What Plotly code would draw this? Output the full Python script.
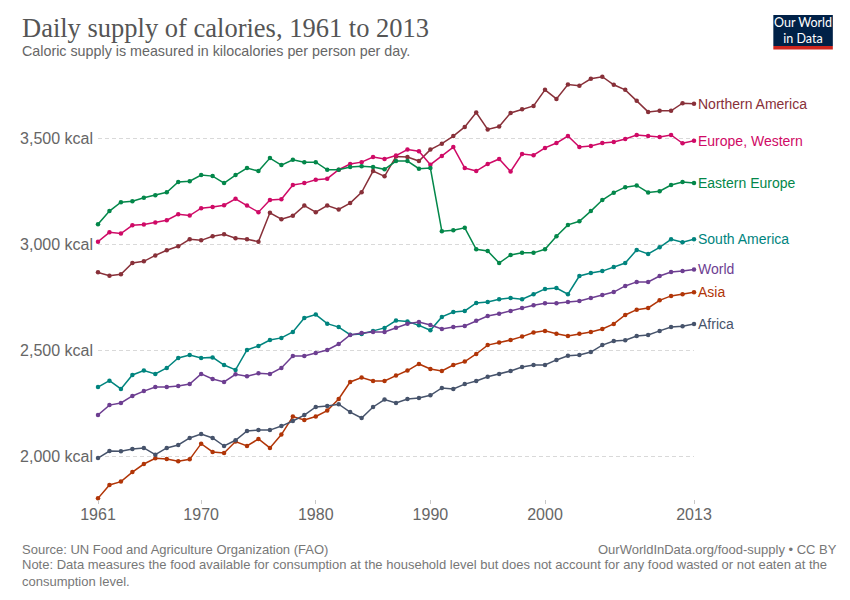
import plotly.graph_objects as go

years = list(range(1961, 2014))

northern_america = [2869, 2853, 2860, 2913, 2921, 2949, 2973, 2992, 3025, 3020,
                    3039, 3049, 3030, 3025, 3014, 3150, 3120, 3136, 3184, 3153,
                    3184, 3166, 3196, 3247, 3347, 3322, 3416, 3413, 3394, 3448,
                    3476, 3512, 3555, 3623, 3543, 3557, 3621, 3639, 3654, 3730,
                    3687, 3755, 3749, 3782, 3792, 3754, 3730, 3678, 3626, 3631,
                    3631, 3667, 3664]
europe_western = [3014, 3058, 3052, 3091, 3095, 3104, 3115, 3143, 3137, 3172,
                  3177, 3186, 3216, 3184, 3153, 3210, 3214, 3281, 3290, 3306,
                  3311, 3353, 3380, 3389, 3413, 3404, 3420, 3448, 3440, 3377,
                  3418, 3460, 3361, 3347, 3380, 3404, 3345, 3427, 3422, 3456,
                  3479, 3512, 3460, 3465, 3479, 3484, 3498, 3517, 3512, 3508,
                  3517, 3478, 3490]
eastern_europe = [3096, 3158, 3200, 3205, 3221, 3233, 3247, 3295, 3299, 3328,
                  3323, 3290, 3328, 3361, 3347, 3408, 3375, 3400, 3389, 3389,
                  3353, 3353, 3366, 3369, 3366, 3355, 3394, 3394, 3358, 3361,
                  3063, 3068, 3079, 2978, 2970, 2913, 2951, 2961, 2961, 2978,
                  3039, 3093, 3110, 3158, 3210, 3245, 3271, 3279, 3246, 3252,
                  3281, 3295, 3290]
south_america = [2328, 2358, 2319, 2385, 2406, 2390, 2418, 2465, 2479, 2465,
                 2468, 2432, 2409, 2503, 2522, 2550, 2560, 2588, 2654, 2670,
                 2627, 2611, 2575, 2578, 2593, 2607, 2642, 2637, 2619, 2596,
                 2659, 2682, 2687, 2725, 2729, 2742, 2748, 2742, 2766, 2791,
                 2795, 2766, 2852, 2866, 2875, 2894, 2913, 2975, 2956, 2987,
                 3025, 3011, 3025]
world = [2196, 2243, 2253, 2286, 2309, 2328, 2328, 2333, 2342, 2390,
         2366, 2352, 2388, 2379, 2393, 2390, 2418, 2475, 2475, 2489,
         2503, 2531, 2574, 2583, 2588, 2588, 2608, 2627, 2635, 2621,
         2602, 2611, 2616, 2641, 2663, 2674, 2687, 2701, 2714, 2723,
         2723, 2729, 2734, 2748, 2762, 2776, 2805, 2824, 2824, 2852,
         2871, 2875, 2883]
asia = [1803, 1866, 1882, 1927, 1965, 1992, 1989, 1978, 1987, 2061,
        2022, 2017, 2071, 2050, 2083, 2041, 2104, 2189, 2173, 2189,
        2217, 2272, 2352, 2373, 2357, 2357, 2382, 2406, 2437, 2413,
        2404, 2432, 2448, 2484, 2526, 2538, 2550, 2566, 2585, 2593,
        2579, 2569, 2579, 2588, 2602, 2626, 2668, 2693, 2701, 2737,
        2758, 2766, 2775]
africa = [1993, 2026, 2025, 2036, 2041, 2009, 2041, 2055, 2088, 2107,
          2088, 2050, 2077, 2121, 2125, 2125, 2144, 2168, 2196, 2234,
          2239, 2247, 2210, 2182, 2234, 2269, 2253, 2272, 2276, 2289,
          2324, 2319, 2342, 2357, 2377, 2390, 2404, 2423, 2432, 2432,
          2456, 2476, 2479, 2493, 2526, 2545, 2549, 2569, 2574, 2593,
          2611, 2615, 2625]

series_names = ["Northern America", "Europe, Western", "Eastern Europe",
                "South America", "World", "Asia", "Africa"]
series_values = [northern_america, europe_western, eastern_europe,
                 south_america, world, asia, africa]
series_colors = ["#883039", "#cf0a66", "#03874a", "#00847e", "#6d3e91",
                 "#b13507", "#46536b"]

x_tickvals = [1961, 1970, 1980, 1990, 2000, 2013]
y_tickvals = [2000, 2500, 3000, 3500]
y_ticktext = ["2,000 kcal", "2,500 kcal", "3,000 kcal", "3,500 kcal"]

# page body adds an 8px margin; lay out in reference pixel coordinates
OFF = 8
W, H = 850 - OFF, 600 - OFF
L, R, T, B = 93 - OFF, 694 - OFF, 75 - OFF, 499 - OFF


def px(x):
    return (x - OFF - L) / (R - L)


def py(y):
    return (B - (y - OFF)) / (B - T)


SANS = "Liberation Sans, Arial, sans-serif"

fig = go.Figure()
for name, vals, col in zip(series_names, series_values, series_colors):
    fig.add_trace(go.Scatter(
        x=years, y=vals, name=name, mode="lines+markers",
        line=dict(color=col, width=1.5),
        marker=dict(color=col, size=4.5),
        cliponaxis=False, showlegend=False,
    ))
    fig.add_annotation(x=years[-1], y=vals[-1], xref="x", yref="y",
                       text=name, showarrow=False, xanchor="left",
                       yanchor="middle", xshift=2,
                       font=dict(family=SANS, size=14, color=col))

fig.update_layout(
    width=W, height=H,
    margin=dict(l=L, r=W - R, t=T, b=H - B),
    plot_bgcolor="white", paper_bgcolor="white",
    font=dict(family=SANS, color="#666"),
)
fig.update_xaxes(
    range=[1961, 2013], tickvals=x_tickvals, showgrid=False, zeroline=False,
    showline=False, ticks="outside", ticklen=4, tickcolor="#c8c8c8",
    ticklabelstandoff=-3,
    tickfont=dict(family=SANS, size=16, color="#666"),
)
fig.update_yaxes(
    range=[1800, 3800], tickvals=y_tickvals, ticktext=y_ticktext,
    showgrid=True, gridcolor="#d9d9d9", griddash="4px,3px", gridwidth=1,
    zeroline=False, showline=False, ticks="", ticklabelstandoff=4,
    tickfont=dict(family=SANS, size=16, color="#666"),
)

# Title & subtitle
fig.add_annotation(x=px(14), y=py(28), xref="paper", yref="paper",
                   text="Daily supply of calories, 1961 to 2013",
                   showarrow=False, xanchor="left", yanchor="middle",
                   font=dict(family="Liberation Serif, serif", size=26.5,
                             color="#555"))
fig.add_annotation(x=px(14), y=py(51), xref="paper", yref="paper",
                   text="Caloric supply is measured in kilocalories per person per day.",
                   showarrow=False, xanchor="left", yanchor="middle",
                   font=dict(family=SANS, size=14.3, color="#666"))

# Footer
fig.add_annotation(x=px(14), y=py(549), xref="paper", yref="paper",
                   text="Source: UN Food and Agriculture Organization (FAO)",
                   showarrow=False, xanchor="left", yanchor="middle",
                   font=dict(family=SANS, size=13, color="#777"))
fig.add_annotation(x=px(840), y=py(549), xref="paper", yref="paper",
                   text="OurWorldInData.org/food-supply • CC BY",
                   showarrow=False, xanchor="right", yanchor="middle",
                   font=dict(family=SANS, size=13, color="#777"))
fig.add_annotation(x=px(14), y=py(555), xref="paper", yref="paper",
                   text=("Note: Data measures the food available for consumption at the "
                         "household level but does not account for any food wasted or not "
                         "eaten at the<br>consumption level."),
                   showarrow=False, xanchor="left", yanchor="top", align="left",
                   font=dict(family=SANS, size=13, color="#777"))

# Logo
fig.add_shape(type="rect", xref="paper", yref="paper",
              x0=px(774), x1=px(834), y0=py(46), y1=py(15),
              fillcolor="#002147", line=dict(width=0), layer="above")
fig.add_shape(type="rect", xref="paper", yref="paper",
              x0=px(774), x1=px(834), y0=py(49.5), y1=py(46),
              fillcolor="#ce261e", line=dict(width=0), layer="above")
fig.add_annotation(x=px(804), y=py(31), xref="paper", yref="paper",
                   text="Our World<br>in Data", showarrow=False,
                   xanchor="center", yanchor="middle", align="center",
                   font=dict(family="Lato, sans-serif", size=12.5, color="white"))

fig.write_html("out.html")
